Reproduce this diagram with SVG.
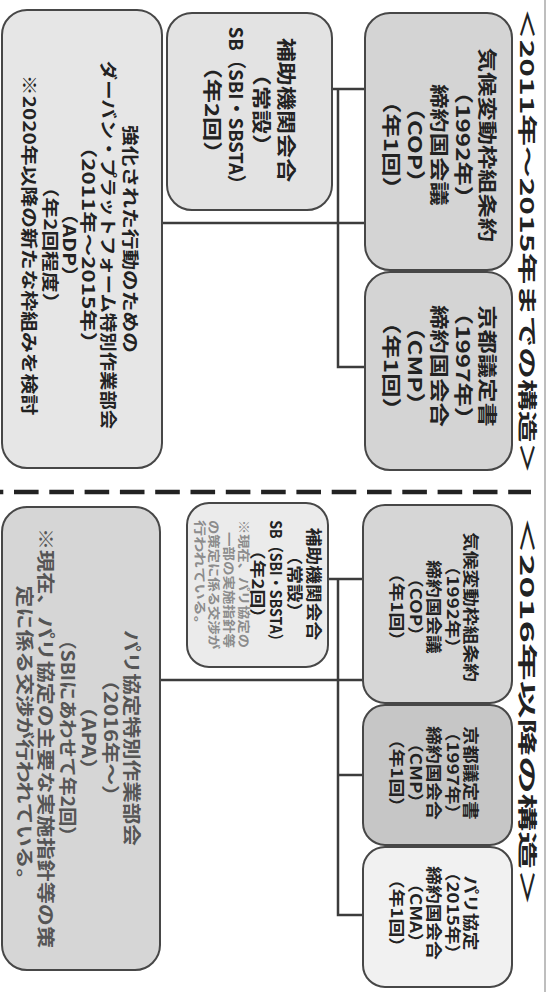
<svg xmlns="http://www.w3.org/2000/svg" width="548" height="992" viewBox="0 0 548 992">
<style>
.box{stroke:#474747;stroke-width:2}
.t{font-family:"Noto Sans CJK JP","Noto Sans CJK SC",sans-serif;font-weight:700;text-anchor:middle;dominant-baseline:central;fill:#222}
.h{font-size:19px}
.big{font-size:19px}
.mid{font-size:17px}
.sm{font-size:16px}
.note{font-family:"Noto Sans CJK JP","Noto Sans CJK SC",sans-serif;font-weight:700;font-size:12.5px;dominant-baseline:central;fill:#8c8c8c;text-anchor:start}
.conn{fill:none;stroke:#3c3c3c;stroke-width:2.5}
</style>
<rect width="548" height="992" fill="#ffffff"/>
<line x1="545" y1="0" x2="545" y2="992" stroke="#a8a8a8" stroke-width="1.5"/>

<g id="heading-2011">
<g transform="translate(528.5,241) rotate(90)">
<text class="t h" x="0" y="0" textLength="466" lengthAdjust="spacingAndGlyphs">＜2011年～2015年までの構造＞</text>
</g>
</g>
<g id="heading-2016">
<g transform="translate(528.5,711.5) rotate(90)">
<text class="t h" x="0" y="0" textLength="390" lengthAdjust="spacingAndGlyphs">＜2016年以降の構造＞</text>
</g>
</g>

<g id="divider">
<line x1="0" y1="492" x2="531" y2="492" stroke="#222" stroke-width="4.5" stroke-dasharray="24.6 10.7" stroke-dashoffset="21.3"/>
</g>

<g id="connectors">
<path class="conn" d="M332 89H365M338 89V367H365M162 223H365"/>
<path class="conn" d="M328 579H363M338 579V915H363M338 775H363M160 680H363"/>
</g>

<g id="cop-2011">
<rect class="box" x="365" y="13" width="147" height="257" rx="25" fill="#d4d4d4"/>
<g transform="translate(440,145) rotate(90) scale(1.28,1)">
<text class="t big" x="0" y="-48">気候変動枠組条約</text>
<text class="t big" x="0" y="-24">（1992年）</text>
<text class="t big" x="0" y="0">締約国会議</text>
<text class="t big" x="0" y="24">（COP）</text>
<text class="t big" x="0" y="48">（年1回）</text>
</g>
</g>

<g id="cmp-2011">
<rect class="box" x="365" y="272" width="147" height="198" rx="25" fill="#d4d4d4"/>
<g transform="translate(440,366) rotate(90) scale(1.28,1)">
<text class="t big" x="0" y="-48">京都議定書</text>
<text class="t big" x="0" y="-24">（1997年）</text>
<text class="t big" x="0" y="0">締約国会合</text>
<text class="t big" x="0" y="24">（CMP）</text>
<text class="t big" x="0" y="48">（年1回）</text>
</g>
</g>

<g id="sb-2011">
<rect class="box" x="167" y="13" width="165" height="197" rx="25" fill="#e3e3e3"/>
<g transform="translate(250,110) rotate(90) scale(1.27,1)">
<text class="t big" x="0" y="-37">補助機関会合</text>
<text class="t big" x="0" y="-12.5">（常設）</text>
<text class="t big" x="0" y="12.5" textLength="131" lengthAdjust="spacingAndGlyphs">SB（SBI・SBSTA）</text>
<text class="t big" x="0" y="37">（年2回）</text>
</g>
</g>

<g id="adp-2011">
<rect class="box" x="2" y="10" width="160" height="458" rx="25" fill="#e6e6e6"/>
<g transform="translate(82,245) rotate(90) scale(1.22,1)">
<text class="t mid" x="-4.9" y="-50">強化された行動のための</text>
<text class="t mid" x="0" y="-28" textLength="302" lengthAdjust="spacingAndGlyphs">ダーバン・プラットフォーム特別作業部会</text>
<text class="t mid" x="0" y="-8" textLength="179" lengthAdjust="spacingAndGlyphs">（2011年～2015年）</text>
<text class="t mid" x="0" y="11">（ADP）</text>
<text class="t mid" x="0" y="30">（年2回程度）</text>
<text class="t mid" x="0" y="51" textLength="279" lengthAdjust="spacingAndGlyphs">※2020年以降の新たな枠組みを検討</text>
</g>
</g>

<g id="cop-2016">
<rect class="box" x="363" y="505" width="149" height="198" rx="22" fill="#d6d6d6"/>
<g transform="translate(435,607) rotate(90) scale(1.17,1)">
<text class="t sm" x="0" y="-37">気候変動枠組条約</text>
<text class="t sm" x="0" y="-18.5">（1992年）</text>
<text class="t sm" x="0" y="0">締約国会議</text>
<text class="t sm" x="0" y="18.5">（COP）</text>
<text class="t sm" x="0" y="37">（年1回）</text>
</g>
</g>

<g id="cmp-2016">
<rect class="box" x="363" y="705" width="149" height="140" rx="22" fill="#c6c6c6"/>
<g transform="translate(435,773) rotate(90) scale(1.17,1)">
<text class="t sm" x="0" y="-37">京都議定書</text>
<text class="t sm" x="0" y="-18.5">（1997年）</text>
<text class="t sm" x="0" y="0">締約国会合</text>
<text class="t sm" x="0" y="18.5">（CMP）</text>
<text class="t sm" x="0" y="37">（年1回）</text>
</g>
</g>

<g id="cma-2016">
<rect class="box" x="363" y="847" width="149" height="140" rx="22" fill="#f1f1f1"/>
<g transform="translate(435,913) rotate(90) scale(1.17,1)">
<text class="t sm" x="0" y="-37">パリ協定</text>
<text class="t sm" x="0" y="-18.5">（2015年）</text>
<text class="t sm" x="0" y="0">締約国会合</text>
<text class="t sm" x="0" y="18.5">（CMA）</text>
<text class="t sm" x="0" y="37">（年1回）</text>
</g>
</g>

<g id="sb-2016">
<rect class="box" x="187" y="503" width="141" height="164" rx="22" fill="#ebebeb"/>
<g transform="translate(257.5,584) rotate(90) scale(1.17,1)">
<text class="t sm" x="0" y="-57.5">補助機関会合</text>
<text class="t sm" x="0" y="-38.5">（常設）</text>
<text class="t sm" x="0" y="-19.5" textLength="109" lengthAdjust="spacingAndGlyphs">SB（SBI・SBSTA）</text>
<text class="t sm" x="0" y="-1">（年2回）</text>
</g>
<g transform="translate(257.5,0) rotate(90)">
<text class="note" x="520" y="13.5" textLength="128" lengthAdjust="spacingAndGlyphs">※現在、パリ協定の</text>
<text class="note" x="532" y="28.5" textLength="116" lengthAdjust="spacingAndGlyphs">一部の実施指針等</text>
<text class="note" x="520" y="43.5" textLength="129" lengthAdjust="spacingAndGlyphs">の策定に係る交渉が</text>
<text class="note" x="520" y="57.5" textLength="112" lengthAdjust="spacingAndGlyphs">行われている。</text>
</g>
</g>

<g id="apa-2016">
<rect class="box" x="2" y="507" width="158" height="463" rx="25" fill="#d6d6d6"/>
<g transform="translate(81,738) rotate(90) scale(1.2,1)">
<text class="t mid" style="font-size:18px;fill:#555" x="0" y="-52">パリ協定特別作業部会</text>
<text class="t mid" style="font-size:18px;fill:#555" x="0" y="-31">（2016年～）</text>
<text class="t mid" style="font-size:18px;fill:#555" x="0" y="-9">（APA）</text>
<text class="t mid" style="font-size:18px;fill:#555" x="0" y="12" textLength="179" lengthAdjust="spacingAndGlyphs">（SBIにあわせて年2回）</text>
<text class="t mid" style="font-size:18px;fill:#555" x="0" y="34" textLength="350" lengthAdjust="spacingAndGlyphs">※現在、パリ協定の主要な実施指針等の策</text>
<text class="t mid" style="font-size:18px;fill:#555" x="0" y="55" textLength="254" lengthAdjust="spacingAndGlyphs">定に係る交渉が行われている。</text>
</g>
</g>
</svg>
